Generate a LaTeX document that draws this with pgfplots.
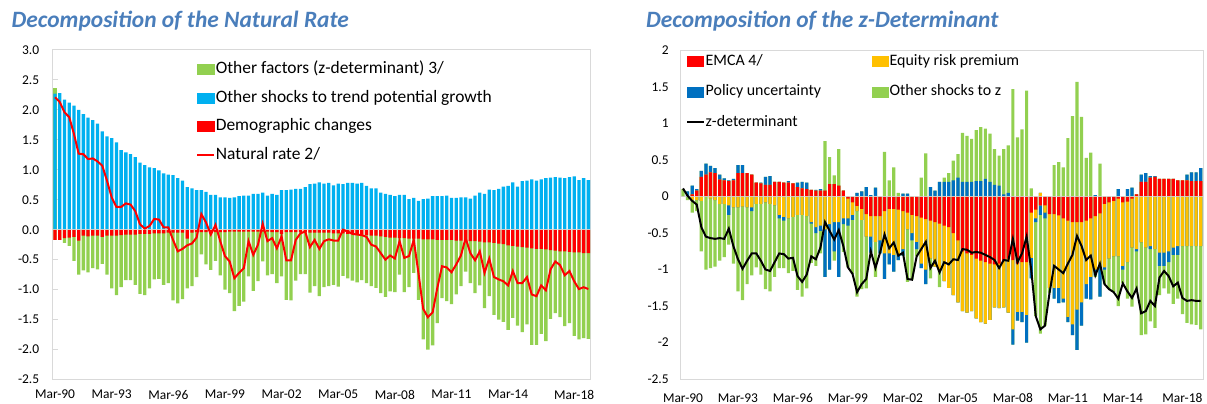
\documentclass[border=0pt]{standalone}
\usepackage{fontspec}
\setmainfont{Carlito}
\usepackage{pgfplots}
\usepackage{pgfplotstable}
\pgfplotsset{compat=1.18}
\definecolor{cGreen}{HTML}{92D050}
\definecolor{cBlue}{HTML}{00B0F0}
\definecolor{cRed}{HTML}{FF0000}
\definecolor{cDBlue}{HTML}{0070C0}
\definecolor{cYellow}{HTML}{FFC000}
\definecolor{cTitle}{HTML}{4A7EBB}
\definecolor{cFrame}{HTML}{D9D9D9}

% Left panel: i, B = top of blue (other shocks), R = bottom of red (demographic),
% G = bottom of green (other factors), L = natural rate
\pgfplotstableread{
i B R G L
0 2.27 -0.17 -0.17 2.21
1 2.28 -0.17 -0.17 2.13
2 2.17 -0.14 -0.22 1.96
3 2.12 -0.13 -0.27 1.88
4 2.07 -0.12 -0.52 1.60
5 2.00 -0.18 -0.75 1.27
6 1.93 -0.10 -0.68 1.26
7 1.87 -0.11 -0.71 1.18
8 1.83 -0.10 -0.64 1.19
9 1.77 -0.10 -0.66 1.14
10 1.64 -0.12 -0.57 1.07
11 1.56 -0.10 -0.75 0.82
12 1.53 -0.10 -0.98 0.54
13 1.46 -0.10 -1.09 0.38
14 1.33 -0.09 -0.96 0.38
15 1.29 -0.08 -0.84 0.44
16 1.26 -0.08 -0.84 0.42
17 1.21 -0.08 -0.92 0.31
18 1.12 -0.07 -1.07 0.09
19 1.08 -0.07 -1.09 0.02
20 1.04 -0.07 -0.98 0.06
21 1.03 -0.06 -0.83 0.18
22 0.99 -0.06 -0.82 0.17
23 0.94 -0.06 -0.92 0.04
24 0.92 -0.05 -0.89 0.04
25 0.91 -0.05 -1.18 -0.17
26 0.86 -0.05 -1.23 -0.36
27 0.82 -0.05 -1.16 -0.32
28 0.71 -0.15 -0.98 -0.26
29 0.69 -0.05 -0.94 -0.23
30 0.66 -0.04 -0.79 -0.13
31 0.66 -0.04 -0.41 0.26
32 0.63 -0.04 -0.58 0.12
33 0.58 -0.04 -0.67 -0.08
34 0.58 -0.04 -0.52 0.08
35 0.54 -0.04 -0.76 -0.19
36 0.54 -0.04 -1.00 -0.44
37 0.53 -0.03 -1.06 -0.53
38 0.54 -0.03 -1.36 -0.81
39 0.56 -0.03 -1.27 -0.72
40 0.57 -0.03 -1.20 -0.64
41 0.57 -0.03 -0.78 -0.19
42 0.60 -0.03 -1.02 -0.42
43 0.60 -0.03 -0.86 -0.25
44 0.62 -0.03 -0.53 0.10
45 0.57 -0.03 -0.76 -0.19
46 0.60 -0.04 -0.74 -0.14
47 0.58 -0.04 -0.89 -0.31
48 0.66 -0.07 -0.78 -0.11
49 0.66 -0.04 -1.17 -0.51
50 0.67 -0.04 -1.18 -0.51
51 0.68 -0.04 -0.85 -0.17
52 0.68 -0.04 -0.74 -0.06
53 0.71 -0.04 -0.74 -0.03
54 0.76 -0.05 -1.05 -0.29
55 0.77 -0.05 -0.94 -0.17
56 0.79 -0.05 -1.11 -0.32
57 0.77 -0.05 -0.96 -0.19
58 0.78 -0.05 -0.94 -0.16
59 0.74 -0.06 -0.92 -0.18
60 0.77 -0.06 -0.95 -0.18
61 0.76 -0.06 -0.77 0.00
62 0.78 -0.07 -0.81 -0.03
63 0.78 -0.07 -0.85 -0.07
64 0.77 -0.08 -0.88 -0.08
65 0.78 -0.08 -0.84 -0.09
66 0.73 -0.09 -0.89 -0.12
67 0.69 -0.10 -0.94 -0.25
68 0.69 -0.10 -0.97 -0.28
69 0.62 -0.11 -1.06 -0.39
70 0.60 -0.12 -1.12 -0.50
71 0.58 -0.13 -1.03 -0.43
72 0.56 -0.13 -1.04 -0.48
73 0.58 -0.14 -0.75 -0.19
74 0.58 -0.14 -1.04 -0.47
75 0.51 -0.15 -0.96 -0.44
76 0.53 -0.15 -0.72 -0.17
77 0.48 -0.15 -1.17 -0.72
78 0.51 -0.16 -1.83 -1.32
79 0.52 -0.16 -2.00 -1.46
80 0.56 -0.16 -1.93 -1.38
81 0.56 -0.17 -1.56 -0.97
82 0.56 -0.17 -1.14 -0.61
83 0.57 -0.17 -1.19 -0.63
84 0.53 -0.17 -1.24 -0.71
85 0.53 -0.18 -1.08 -0.58
86 0.54 -0.18 -0.94 -0.43
87 0.54 -0.19 -0.70 -0.14
88 0.52 -0.19 -0.89 -0.39
89 0.57 -0.19 -1.06 -0.51
90 0.62 -0.20 -0.93 -0.36
91 0.60 -0.21 -1.31 -0.72
92 0.67 -0.21 -1.11 -0.48
93 0.66 -0.22 -1.42 -0.79
94 0.68 -0.23 -1.50 -0.83
95 0.72 -0.24 -1.54 -0.86
96 0.73 -0.26 -1.67 -0.93
97 0.79 -0.27 -1.47 -0.69
98 0.72 -0.28 -1.60 -0.89
99 0.81 -0.29 -1.71 -0.89
100 0.82 -0.30 -1.58 -0.79
101 0.84 -0.31 -1.92 -1.08
102 0.82 -0.32 -1.92 -1.11
103 0.84 -0.32 -1.74 -0.93
104 0.86 -0.33 -1.86 -1.01
105 0.87 -0.34 -1.49 -0.66
106 0.88 -0.35 -1.39 -0.53
107 0.87 -0.36 -1.46 -0.59
108 0.86 -0.36 -1.61 -0.76
109 0.88 -0.37 -1.56 -0.69
110 0.89 -0.38 -1.77 -0.86
111 0.83 -0.38 -1.83 -0.99
112 0.86 -0.39 -1.81 -0.96
113 0.83 -0.39 -1.82 -0.99
}\leftdata

% Right panel: segment boundaries of the stacked bars.
% RP,YP,BP,GP: tops of EMCA, equity, policy, other (positive stack)
% RN,YN,BN,GN: bottoms of EMCA, equity, policy, other (negative stack); L = z-determinant
\pgfplotstableread{
i RP YP BP GP RN YN BN GN L
0 0 0 0 0.10 0 0 0 0 0.11
1 0 0 0.07 0.07 0 0 0 -0.05 0.01
2 0.03 0.03 0.15 0.15 0 -0.05 -0.05 -0.22 -0.06
3 0.08 0.08 0.10 0.10 0 -0.05 -0.05 -0.20 -0.11
4 0.27 0.27 0.35 0.35 0 -0.06 -0.06 -0.75 -0.42
5 0.30 0.30 0.45 0.45 0 0 0 -1.00 -0.55
6 0.33 0.33 0.42 0.42 0 -0.03 -0.03 -0.98 -0.57
7 0.32 0.32 0.39 0.39 0 -0.05 -0.05 -0.96 -0.58
8 0.23 0.23 0.30 0.30 0 -0.10 -0.10 -0.88 -0.57
9 0.22 0.22 0.25 0.25 0 -0.10 -0.10 -0.83 -0.58
10 0.21 0.21 0.22 0.22 0 -0.12 -0.25 -0.66 -0.44
11 0.22 0.22 0.24 0.24 0 -0.15 -0.15 -0.92 -0.68
12 0.32 0.32 0.43 0.43 0 -0.15 -0.15 -1.30 -0.86
13 0.32 0.32 0.43 0.43 0 -0.14 -0.14 -1.42 -0.99
14 0.32 0.32 0.32 0.32 0 -0.15 -0.15 -1.20 -0.88
15 0.30 0.30 0.30 0.30 0 -0.15 -0.20 -1.08 -0.78
16 0.19 0.19 0.19 0.19 0 -0.10 -0.10 -0.97 -0.78
17 0.18 0.18 0.19 0.19 0 -0.10 -0.10 -1.07 -0.88
18 0.16 0.16 0.27 0.27 0 -0.08 -0.08 -1.27 -1.00
19 0.16 0.16 0.28 0.28 0 -0.10 -0.10 -1.30 -1.02
20 0.20 0.20 0.20 0.20 0 -0.12 -0.12 -1.10 -0.90
21 0.20 0.20 0.20 0.20 0 -0.25 -0.30 -0.98 -0.78
22 0.19 0.19 0.19 0.19 0 -0.28 -0.33 -0.98 -0.79
23 0.19 0.19 0.21 0.21 0 -0.30 -0.30 -1.05 -0.85
24 0.18 0.18 0.18 0.18 0 -0.28 -0.28 -1.02 -0.84
25 0.13 0.13 0.19 0.19 0 -0.25 -0.25 -1.28 -1.09
26 0.11 0.11 0.20 0.20 0 -0.25 -0.25 -1.37 -1.17
27 0.10 0.10 0.19 0.19 0 -0.27 -0.27 -1.26 -1.07
28 0.09 0.09 0.09 0.09 0 -0.35 -0.37 -0.91 -0.82
29 0.08 0.08 0.09 0.09 0 -0.42 -0.50 -0.95 -0.86
30 0.08 0.08 0.10 0.10 0 -0.40 -0.47 -0.78 -0.70
31 0.08 0.08 0.08 0.76 0 -0.45 -1.10 -1.10 -0.35
32 0.17 0.17 0.17 0.54 0 -0.38 -1.00 -1.00 -0.47
33 0.17 0.17 0.17 0.29 0 -0.35 -0.75 -0.88 -0.59
34 0.15 0.15 0.15 0.65 0 -0.35 -1.10 -1.10 -0.46
35 0.08 0.08 0.08 0.08 0 -0.30 -0.38 -0.76 -0.68
36 0 0 0 0 -0.03 -0.30 -0.40 -0.97 -0.97
37 0 0 0 0 -0.08 -0.25 -0.32 -1.06 -1.06
38 0 0 0.05 0.05 -0.13 -0.20 -0.20 -1.37 -1.31
39 0 0 0.07 0.07 -0.17 -0.32 -0.32 -1.27 -1.20
40 0 0 0.13 0.13 -0.24 -0.55 -0.55 -1.26 -1.13
41 0 0 0.02 0.02 -0.27 -0.55 -0.77 -0.77 -0.75
42 0 0 0.12 0.12 -0.27 -0.62 -0.62 -1.10 -0.98
43 0 0 0 0 -0.27 -0.60 -0.78 -0.78 -0.77
44 0 0 0 0.61 -0.20 -0.78 -1.13 -1.13 -0.52
45 0 0 0 0.22 -0.17 -0.78 -0.93 -0.93 -0.71
46 0 0 0 0.40 -0.17 -0.80 -1.03 -1.03 -0.63
47 0 0 0 0.05 -0.18 -0.80 -0.87 -0.87 -0.81
48 0 0 0.04 0.04 -0.20 -0.72 -0.81 -0.81 -0.77
49 0 0 0.04 0.04 -0.22 -0.45 -0.45 -1.17 -1.13
50 0 0 0 0 -0.25 -0.50 -0.60 -1.14 -1.14
51 0 0 0 0 -0.27 -0.62 -0.72 -0.82 -0.82
52 0 0 0 0.26 -0.29 -0.92 -0.98 -0.98 -0.72
53 0 0 0 0.59 -0.31 -1.00 -1.20 -1.20 -0.62
54 0 0 0.13 0.13 -0.33 -0.85 -0.85 -1.12 -0.98
55 0 0 0.08 0.08 -0.35 -0.96 -0.96 -0.96 -0.88
56 0 0 0.20 0.20 -0.37 -1.00 -1.00 -1.24 -1.04
57 0 0 0.20 0.26 -0.40 -1.16 -1.16 -1.16 -0.90
58 0 0 0.20 0.32 -0.42 -1.25 -1.25 -1.25 -0.93
59 0 0 0.22 0.49 -0.50 -1.35 -1.35 -1.35 -0.86
60 0 0 0.26 0.58 -0.60 -1.45 -1.45 -1.45 -0.87
61 0 0 0.20 0.87 -0.75 -1.57 -1.57 -1.57 -0.72
62 0 0 0.20 0.83 -0.78 -1.59 -1.59 -1.59 -0.73
63 0 0 0.20 0.79 -0.80 -1.57 -1.57 -1.57 -0.77
64 0 0 0.21 0.91 -0.85 -1.67 -1.67 -1.67 -0.76
65 0 0 0.21 0.95 -0.88 -1.72 -1.72 -1.72 -0.77
66 0 0 0.24 0.93 -0.90 -1.74 -1.74 -1.74 -0.80
67 0 0 0.20 0.86 -0.92 -1.69 -1.69 -1.69 -0.83
68 0 0 0.16 0.65 -0.93 -1.52 -1.52 -1.52 -0.87
69 0 0 0.15 0.56 -0.92 -1.53 -1.53 -1.53 -0.98
70 0 0 0.03 0.65 -0.88 -1.52 -1.52 -1.52 -0.87
71 0 0 0.05 0.70 -0.85 -1.59 -1.59 -1.59 -0.88
72 0 0 0 1.47 -0.87 -1.82 -2.03 -2.03 -0.58
73 0 0 0 0.81 -0.92 -1.58 -1.70 -1.70 -0.90
74 0 0 0 0.92 -0.90 -1.58 -1.72 -1.72 -0.78
75 0 0 0 1.45 -0.90 -1.62 -2.00 -2.00 -0.55
76 0 0 0 0.11 -0.22 -0.84 -1.12 -1.12 -1.00
77 0 0 0 0 -0.18 -0.30 -0.35 -1.64 -1.64
78 0 0.05 0.05 0.05 -0.12 -0.12 -0.25 -1.88 -1.82
79 0 0 0 0 -0.12 -0.22 -0.30 -1.77 -1.77
80 0 0 0 0 -0.24 -1.25 -1.25 -1.32 -1.32
81 0 0 0 0.43 -0.24 -1.25 -1.40 -1.40 -0.95
82 0 0 0 0.47 -0.26 -1.25 -1.46 -1.46 -1.00
83 0 0 0 0.40 -0.30 -1.40 -1.45 -1.45 -1.05
84 0 0 0 0.80 -0.33 -1.65 -1.72 -1.72 -0.92
85 0 0 0 1.10 -0.35 -1.75 -1.90 -1.90 -0.80
86 0 0 0 1.57 -0.35 -1.55 -2.10 -2.10 -0.54
87 0 0 0 1.09 -0.35 -1.45 -1.77 -1.77 -0.68
88 0 0 0 0.53 -0.33 -1.20 -1.40 -1.40 -0.87
89 0 0 0 0.60 -0.30 -1.10 -1.41 -1.41 -0.81
90 0 0 0.02 0.02 -0.27 -1.00 -1.08 -1.10 -1.08
91 0 0 0 0.45 -0.23 -0.98 -1.37 -1.37 -0.92
92 0 0 0 0 -0.10 -0.97 -1.00 -1.20 -1.20
93 0 0 0 0 -0.08 -0.85 -0.85 -1.27 -1.27
94 0 0 0 0 -0.06 -0.82 -0.82 -1.31 -1.31
95 0 0 0.10 0.10 -0.03 -0.82 -0.82 -1.50 -1.40
96 0 0 0 0 -0.08 -0.95 -1.00 -1.19 -1.19
97 0 0 0.10 0.10 -0.07 -0.90 -0.90 -1.40 -1.30
98 0 0 0.12 0.12 -0.03 -0.70 -0.70 -1.51 -1.39
99 0.03 0.03 0.03 0.03 0 -0.72 -0.75 -1.29 -1.26
100 0.20 0.20 0.30 0.30 0 -0.63 -0.63 -1.90 -1.60
101 0.20 0.20 0.32 0.32 0 -0.70 -0.70 -1.89 -1.57
102 0.26 0.26 0.28 0.28 0 -0.68 -0.72 -1.71 -1.43
103 0.27 0.27 0.28 0.28 0 -0.72 -0.72 -1.80 -1.50
104 0.24 0.24 0.24 0.24 0 -0.77 -0.95 -1.35 -1.11
105 0.24 0.24 0.24 0.24 0 -0.77 -0.95 -1.26 -1.02
106 0.24 0.24 0.24 0.24 0 -0.75 -0.90 -1.33 -1.09
107 0.24 0.24 0.24 0.24 0 -0.70 -0.80 -1.47 -1.23
108 0.22 0.22 0.22 0.22 0 -0.68 -0.80 -1.40 -1.18
109 0.22 0.22 0.22 0.22 0 -0.68 -0.68 -1.61 -1.39
110 0.22 0.22 0.30 0.30 0 -0.68 -0.68 -1.73 -1.43
111 0.21 0.21 0.33 0.33 0 -0.68 -0.68 -1.75 -1.42
112 0.21 0.21 0.33 0.33 0 -0.68 -0.68 -1.76 -1.43
113 0.21 0.21 0.39 0.39 0 -0.68 -0.68 -1.82 -1.43
}\rightdata

\pgfplotsset{
  panel/.style={
    scale only axis,
    ybar, bar width=0.7,
    xmin=-0.5, xmax=113.5,
    xticklabels={Mar-90,Mar-93,Mar-96,Mar-99,Mar-02,Mar-05,Mar-08,Mar-11,Mar-14,Mar-18},
    axis line style={draw=cFrame, line width=1bp},
    xtick style={draw=none},
    xtick pos=bottom, ytick pos=left,
    tick label style={font=\fontsize{13.5}{16}\selectfont, text=black},
    x tick label style={yshift=-7bp},
    legend cell align=left,
  },
  sq/.style={legend image code/.code={\fill[#1] (0bp,-5bp) rectangle (16.5bp,5bp);}},
  ln/.style={legend image code/.code={\draw[#1, line width=2bp] (0bp,0bp) -- (16.5bp,0bp);}},
  bb/.style={fill=#1, draw=none, bar shift=0pt, forget plot},
}

\begin{document}
\begin{tikzpicture}
\useasboundingbox (0,0) rectangle (1207bp,404bp);

\node[anchor=west, inner sep=0pt, text=cTitle, font=\fontsize{23.5}{27}\selectfont\bfseries\itshape] at (11.5bp,383.3bp) {Decomposition of the Natural Rate};
\node[anchor=west, inner sep=0pt, text=cTitle, font=\fontsize{23.5}{27}\selectfont\bfseries\itshape] at (646bp,382.5bp) {Decomposition of the z-Determinant};

\begin{axis}[panel,
  at={(52.7bp,24.5bp)}, anchor=south west,
  width=538bp, height=329.5bp,
  xtick={0,12,24,36,48,60,72,84,96,110},
  ymin=-2.5, ymax=3,
  ytick={-2.5,-2,-1.5,-1,-0.5,0,0.5,1,1.5,2,2.5,3},
  yticklabels={-2.5,-2.0,-1.5,-1.0,-0.5,0.0,0.5,1.0,1.5,2.0,2.5,3.0},
  ytick style={draw=cFrame, line width=1bp},
  tick align=inside, major tick length=5bp,
  y tick label style={xshift=-10bp},
  legend style={draw=none, fill=none, at={(0.2666,0.969)}, anchor=north west,
    font=\fontsize{17.5}{20}\selectfont, inner sep=0pt, row sep=10.6bp,
    nodes={inner sep=1bp, text height=12bp, text depth=4bp}},
]
\addlegendimage{sq=cGreen}
\addlegendentry{Other factors (z-determinant) 3/}
\addlegendimage{sq=cBlue}
\addlegendentry{Other shocks to trend potential growth}
\addlegendimage{sq=cRed}
\addlegendentry{Demographic changes}
\addlegendimage{ln=cRed}
\addlegendentry{Natural rate 2/}

\addplot[bb=cGreen] coordinates {(0,2.36)};
\addplot[bb=cBlue] table[x=i, y=B] {\leftdata};
\addplot[bb=cGreen] table[x=i, y=G] {\leftdata};
\addplot[bb=cRed] table[x=i, y=R] {\leftdata};
\draw[cFrame, line width=1bp, opacity=0.8] (axis cs:-0.5,0) -- (axis cs:113.5,0);
\addplot[sharp plot, cRed, line width=2bp, mark=none, forget plot] table[x=i, y=L] {\leftdata};
\end{axis}

\begin{axis}[panel,
  at={(680.7bp,25bp)}, anchor=south west,
  width=522.3bp, height=328.5bp,
  xtick={0,12,24,36,48,60,72,84,96,109},
  ymin=-2.5, ymax=2,
  ytick={-2.5,-2,-1.5,-1,-0.5,0,0.5,1,1.5,2},
  yticklabels={-2.5,-2,-1.5,-1,-0.5,0,0.5,1,1.5,2},
  ytick style={draw=none},
  y tick label style={xshift=-8.5bp},
  legend columns=2,
  legend style={draw=none, fill=none, at={(0.0101,0.995)}, anchor=north west,
    font=\fontsize{16}{19}\selectfont, inner sep=0pt, row sep=12.5bp,
    nodes={inner sep=1bp, text height=12bp, text depth=4bp}},
]
\addlegendimage{sq=cRed}
\addlegendentry{\makebox[165bp][l]{EMCA 4/}}
\addlegendimage{sq=cYellow}
\addlegendentry{Equity risk premium}
\addlegendimage{sq=cDBlue}
\addlegendentry{\makebox[165bp][l]{Policy uncertainty}}
\addlegendimage{sq=cGreen}
\addlegendentry{Other shocks to z}
\addlegendimage{ln=black}
\addlegendentry{z-determinant}

\addplot[bb=cGreen] table[x=i, y=GP] {\rightdata};
\addplot[bb=cDBlue] table[x=i, y=BP] {\rightdata};
\addplot[bb=cYellow] table[x=i, y=YP] {\rightdata};
\addplot[bb=cRed] table[x=i, y=RP] {\rightdata};
\addplot[bb=cGreen] table[x=i, y=GN] {\rightdata};
\addplot[bb=cDBlue] table[x=i, y=BN] {\rightdata};
\addplot[bb=cYellow] table[x=i, y=YN] {\rightdata};
\addplot[bb=cRed] table[x=i, y=RN] {\rightdata};
\draw[cFrame, line width=1bp, opacity=0.8] (axis cs:-0.5,0) -- (axis cs:113.5,0);
\addplot[sharp plot, black, line width=2bp, mark=none, forget plot] table[x=i, y=L] {\rightdata};
\end{axis}
\end{tikzpicture}
\end{document}
